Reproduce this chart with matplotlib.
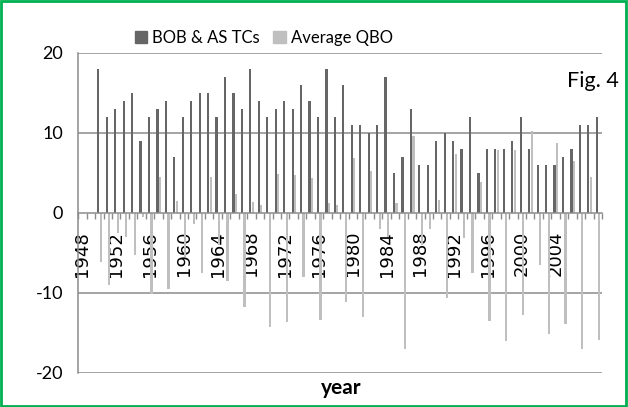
import numpy as np
import matplotlib.pyplot as plt
from matplotlib.patches import Patch, Rectangle

# years on the category axis (1948 and 1949 have no data)
years = list(range(1948, 2010))

# BOB & AS tropical cyclones per year, 1950-2009
tcs = [18, 12, 13, 14, 15, 9, 12, 13, 14, 7,
       12, 14, 15, 15, 12, 17, 15, 13, 18, 14,
       12, 13, 14, 13, 16, 14, 12, 18, 12, 16,
       11, 11, 10, 11, 17, 5, 7, 13, 6, 6,
       9, 10, 9, 8, 12, 5, 8, 8, 8, 9,
       12, 8, 6, 6, 6, 7, 8, 11, 11, 12]

# average QBO, 1950-2009
qbo = [-6.2, -9.1, -2.5, -3.0, -5.3, -0.6, -10.2, 4.5, -9.6, 1.5,
       -5.5, -1.4, -7.6, 4.5, -4.0, -8.6, 2.3, -11.8, 1.3, 0.9,
       -14.3, 4.8, -13.7, 4.7, -8.0, 4.4, -13.4, 1.25, 1.0, -11.2,
       6.9, -13.1, 5.25, -2.0, -3.0, 1.2, -17.0, 9.6, -4.0, -2.0,
       1.6, -10.7, 7.3, -3.2, -7.6, 3.8, -13.6, 7.8, -16.0, 7.8,
       -12.8, 10.2, -6.5, -15.2, 8.7, -13.9, 6.5, -17.0, 4.5, -15.9]

tc_vals = [np.nan, np.nan] + tcs
qbo_vals = [np.nan, np.nan] + qbo

dark = '#666666'
light = '#bfbfbf'
grid = '#8c8c8c'

fig = plt.figure(figsize=(6.28, 4.07), dpi=100)
ax = fig.add_axes([0.1245, 0.0843, 0.8341, 0.7862])

x = np.arange(len(years))
w = 0.26
ax.bar(x - 0.12, tc_vals, width=w, color=dark, zorder=3)
ax.bar(x + 0.18, qbo_vals, width=w, color=light, zorder=3)

ax.set_xlim(-0.5, len(years) - 0.5)
ax.set_ylim(-20, 20)
ax.set_yticks([-20, -10, 0, 10, 20])
ax.set_yticklabels(['-20', '-10', '0', '10', '20'], fontfamily='Lato', fontsize=13)
ax.tick_params(axis='y', length=0, pad=11)

for v in [-20, -10, 10, 20]:
    ax.axhline(v, color=grid, lw=1.1, zorder=1)

# category axis through zero
ax.spines['bottom'].set_position(('data', 0))
ax.spines['bottom'].set_color(grid)
ax.spines['bottom'].set_linewidth(1.1)
ax.spines['bottom'].set_zorder(4)
ax.spines['left'].set_color(grid)
ax.spines['left'].set_linewidth(1.1)
ax.spines['top'].set_visible(False)
ax.spines['right'].set_visible(False)

ax.set_xticks(np.arange(len(years) + 1) - 0.5)
ax.set_xticklabels([])
ax.tick_params(axis='x', which='major', direction='out', length=4, color=grid, width=1)
lab_pos = x[:57:4]
ax.set_xticks(lab_pos, minor=True)
ax.set_xticklabels([str(years[i]) for i in lab_pos], minor=True,
                   rotation=90, fontfamily='DejaVu Sans', fontsize=13)
ax.tick_params(axis='x', which='minor', length=0, pad=13)

handles = [Patch(color=dark), Patch(color=light)]
fig.legend(handles, ['BOB & AS TCs', 'Average QBO'], loc='center',
           bbox_to_anchor=(0.42, 0.907), ncol=2, frameon=False,
           prop={'family': 'Lato', 'size': 12}, handlelength=0.75,
           handleheight=0.75, handletextpad=0.3, columnspacing=0.8)

fig.text(0.903, 0.801, 'Fig. 4', fontfamily='Lato', fontsize=15.5, ha='left', va='center')
fig.text(0.544, 0.046, 'year', fontfamily='Lato', fontsize=15, fontweight='bold',
         ha='center', va='center')

fig.add_artist(Rectangle((0.002, 0.003), 0.995, 0.994, transform=fig.transFigure,
                         fill=False, edgecolor='#00b050', lw=2))

fig.savefig('out.png', dpi=100)
